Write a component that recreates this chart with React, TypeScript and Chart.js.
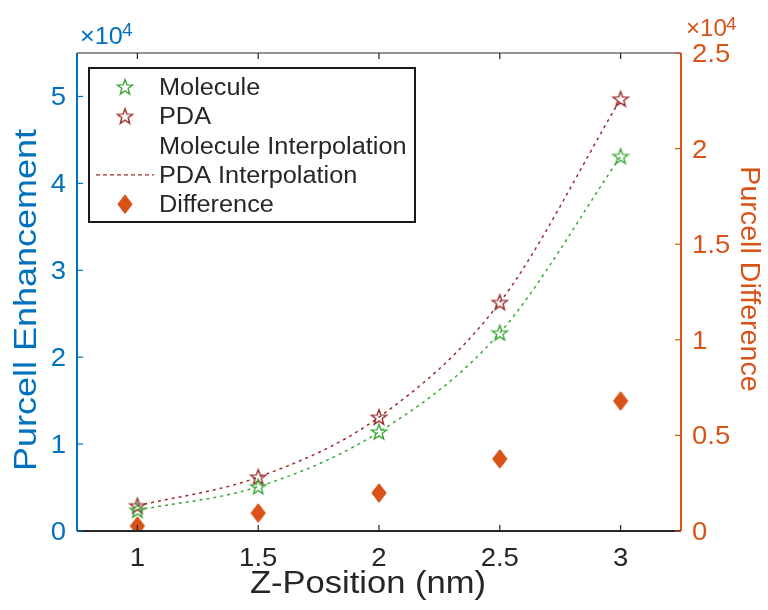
import React, { useEffect, useRef } from "react";
import { Chart, registerables } from "chart.js";

Chart.register(...registerables);

const zPositions = [1, 1.5, 2, 2.5, 3];
const moleculeValues = [2400, 5100, 11400, 22800, 43100];
const pdaValues = [2900, 6200, 13100, 26300, 49700];
const differenceValues = [260, 940, 1990, 3770, 6800];
const xTicks = [1, 1.5, 2, 2.5, 3];
const leftTicks = [0, 10000, 20000, 30000, 40000, 50000];
const rightTicks = [0, 5000, 10000, 15000, 20000, 25000];
const legendLabels = ["Molecule", "PDA", "Molecule Interpolation", "PDA Interpolation", "Difference"];

const BLUE = "#0072BD";
const ORANGE = "#D95319";
const GREEN = "#3aa83a";
const DARKRED = "#9b2d2d";
const TEXT = "#262626";
const FONT = "'Liberation Sans', Arial, Helvetica, sans-serif";
const SX = 1.1;

function makeStar(color: string): HTMLCanvasElement {
  const c = document.createElement("canvas");
  c.width = 20;
  c.height = 20;
  const ctx = c.getContext("2d")!;
  ctx.strokeStyle = color;
  ctx.lineWidth = 1.4;
  ctx.beginPath();
  const cx = 10, cy = 10.5, ro = 8, ri = 3.3;
  for (let i = 0; i < 10; i++) {
    const r = i % 2 === 0 ? ro : ri;
    const a = -Math.PI / 2 + (i * Math.PI) / 5;
    const px = cx + r * Math.cos(a);
    const py = cy + r * Math.sin(a);
    if (i === 0) ctx.moveTo(px, py);
    else ctx.lineTo(px, py);
  }
  ctx.closePath();
  ctx.stroke();
  return c;
}

function makeDiamond(color: string): HTMLCanvasElement {
  const c = document.createElement("canvas");
  c.width = 16;
  c.height = 20;
  const ctx = c.getContext("2d")!;
  ctx.fillStyle = color;
  ctx.strokeStyle = color;
  ctx.lineJoin = "round";
  ctx.lineWidth = 2;
  ctx.beginPath();
  ctx.moveTo(8, 1.5);
  ctx.lineTo(14.5, 10);
  ctx.lineTo(8, 18.5);
  ctx.lineTo(1.5, 10);
  ctx.closePath();
  ctx.fill();
  ctx.stroke();
  return c;
}

function txt(ctx: CanvasRenderingContext2D, s: string, x: number, y: number, align: CanvasTextAlign, sx = SX) {
  ctx.save();
  ctx.translate(x, y);
  ctx.scale(sx, 1);
  ctx.textAlign = align;
  ctx.textBaseline = "alphabetic";
  ctx.fillText(s, 0, 0);
  ctx.restore();
}

const pts = (ys: number[]) => zPositions.map((x, i) => ({ x, y: ys[i] }));

export default function App() {
  const ref = useRef<HTMLCanvasElement | null>(null);
  useEffect(() => {
    document.body.style.margin = "0";
    const greenStar = makeStar(GREEN);
    const redStar = makeStar(DARKRED);
    const diamond = makeDiamond(ORANGE);

    const framePlugin = {
      id: "frame",
      afterDraw(chart: any) {
        const { ctx, chartArea: a, scales } = chart;
        const xs = scales.x, yl = scales.y, yr = scales.y2;
        ctx.save();
        // axes lines
        ctx.lineWidth = 2;
        ctx.strokeStyle = TEXT;
        ctx.beginPath();
        ctx.moveTo(a.left, a.bottom);
        ctx.lineTo(a.right, a.bottom);
        ctx.stroke();
        ctx.lineWidth = 1.2;
        ctx.beginPath();
        ctx.moveTo(a.left, a.top);
        ctx.lineTo(a.right, a.top);
        ctx.stroke();
        ctx.lineWidth = 2;
        ctx.strokeStyle = BLUE;
        ctx.beginPath();
        ctx.moveTo(a.left, a.top);
        ctx.lineTo(a.left, a.bottom);
        ctx.stroke();
        ctx.strokeStyle = ORANGE;
        ctx.beginPath();
        ctx.moveTo(a.right, a.top);
        ctx.lineTo(a.right, a.bottom);
        ctx.stroke();
        // ticks + labels
        ctx.lineWidth = 1.2;
        const tl = 6;
        ctx.font = `25px ${FONT}`;
        ctx.strokeStyle = TEXT;
        ctx.fillStyle = TEXT;
        xTicks.forEach((v) => {
          const px = xs.getPixelForValue(v);
          ctx.beginPath();
          ctx.moveTo(px, a.bottom);
          ctx.lineTo(px, a.bottom - tl);
          ctx.moveTo(px, a.top);
          ctx.lineTo(px, a.top + tl);
          ctx.stroke();
          txt(ctx, String(v), px, 566, "center");
        });
        ctx.strokeStyle = BLUE;
        ctx.fillStyle = BLUE;
        leftTicks.forEach((v) => {
          const py = yl.getPixelForValue(v);
          ctx.beginPath();
          ctx.moveTo(a.left, py);
          ctx.lineTo(a.left + tl, py);
          ctx.stroke();
          txt(ctx, String(v / 10000), 66, py + 9, "right");
        });
        ctx.strokeStyle = ORANGE;
        ctx.fillStyle = ORANGE;
        rightTicks.forEach((v) => {
          const py = yr.getPixelForValue(v);
          ctx.beginPath();
          ctx.moveTo(a.right, py);
          ctx.lineTo(a.right - tl, py);
          ctx.stroke();
          txt(ctx, String(v / 10000), 692, py + 9, "left");
        });
        // exponents
        ctx.fillStyle = BLUE;
        ctx.font = `24px ${FONT}`;
        txt(ctx, "×10", 80, 44, "left", 1.05);
        ctx.font = `18px ${FONT}`;
        txt(ctx, "4", 122, 36, "left", 1.05);
        ctx.fillStyle = ORANGE;
        ctx.font = `23px ${FONT}`;
        txt(ctx, "×10", 686, 36, "left", 1.05);
        ctx.font = `18px ${FONT}`;
        txt(ctx, "4", 726, 30, "left", 1.05);
        // axis titles
        ctx.fillStyle = TEXT;
        ctx.font = `32px ${FONT}`;
        txt(ctx, "Z-Position (nm)", 368, 593, "center", 1.08);
        ctx.save();
        ctx.translate(36, 300);
        ctx.rotate(-Math.PI / 2);
        ctx.fillStyle = BLUE;
        ctx.font = `31px ${FONT}`;
        txt(ctx, "Purcell Enhancement", 0, 0, "center", 1.16);
        ctx.restore();
        ctx.save();
        ctx.translate(741, 279);
        ctx.rotate(Math.PI / 2);
        ctx.fillStyle = ORANGE;
        ctx.font = `27px ${FONT}`;
        txt(ctx, "Purcell Difference", 0, 0, "center", 1.06);
        ctx.restore();
        // legend
        const lx = 89, ly = 68, lw = 326, lh = 154;
        ctx.fillStyle = "#ffffff";
        ctx.fillRect(lx, ly, lw, lh);
        ctx.strokeStyle = "#1a1a1a";
        ctx.lineWidth = 2;
        ctx.strokeRect(lx, ly, lw, lh);
        ctx.font = `23px ${FONT}`;
        legendLabels.forEach((t, i) => {
          const y = 87 + i * 29.3;
          ctx.fillStyle = TEXT;
          txt(ctx, t, 159, y + 8, "left", 1.1);
          if (i === 0) ctx.drawImage(greenStar, 125 - 10, y - 10);
          if (i === 1) ctx.drawImage(redStar, 125 - 10, y - 10);
          if (i === 3) {
            ctx.save();
            ctx.strokeStyle = DARKRED;
            ctx.lineWidth = 1.3;
            ctx.setLineDash([4, 3]);
            ctx.beginPath();
            ctx.moveTo(96, y);
            ctx.lineTo(154, y);
            ctx.stroke();
            ctx.restore();
          }
          if (i === 4) ctx.drawImage(diamond, 125 - 8, y - 10);
        });
        ctx.restore();
      },
    };

    const chart = new Chart(ref.current!, {
      type: "scatter",
      data: {
        datasets: [
          {
            label: "Molecule Interpolation",
            data: pts(moleculeValues),
            showLine: true,
            borderColor: GREEN,
            borderWidth: 1.5,
            borderDash: [3, 4],
            pointRadius: 0,
            cubicInterpolationMode: "monotone",
            yAxisID: "y",
          },
          {
            label: "PDA Interpolation",
            data: pts(pdaValues),
            showLine: true,
            borderColor: DARKRED,
            borderWidth: 1.5,
            borderDash: [3, 4],
            pointRadius: 0,
            cubicInterpolationMode: "monotone",
            yAxisID: "y",
          },
          {
            label: "Molecule",
            data: pts(moleculeValues),
            showLine: false,
            pointStyle: greenStar,
            yAxisID: "y",
          },
          {
            label: "PDA",
            data: pts(pdaValues),
            showLine: false,
            pointStyle: redStar,
            yAxisID: "y",
          },
          {
            label: "Difference",
            data: pts(differenceValues),
            showLine: false,
            pointStyle: diamond,
            yAxisID: "y2",
          },
        ],
      } as any,
      options: {
        responsive: false,
        animation: false,
        devicePixelRatio: 1,
        layout: { padding: { top: 53, left: 0, right: 0, bottom: 0 } },
        plugins: { legend: { display: false }, tooltip: { enabled: false } },
        scales: {
          x: {
            type: "linear",
            min: 0.75,
            max: 3.25,
            grid: { display: false, drawTicks: false },
            border: { display: false },
            afterBuildTicks: (s: any) => { s.ticks = xTicks.map((v) => ({ value: v })); },
            afterFit: (s: any) => { s.height = 79; },
            ticks: { display: false },
          },
          y: {
            type: "linear",
            position: "left",
            min: 0,
            max: 55000,
            grid: { display: false, drawTicks: false },
            border: { display: false },
            afterBuildTicks: (s: any) => { s.ticks = leftTicks.map((v) => ({ value: v })); },
            afterFit: (s: any) => { s.width = 77; },
            ticks: { display: false },
          },
          y2: {
            type: "linear",
            position: "right",
            min: 0,
            max: 25000,
            grid: { display: false, drawTicks: false },
            border: { display: false },
            afterBuildTicks: (s: any) => { s.ticks = rightTicks.map((v) => ({ value: v })); },
            afterFit: (s: any) => { s.width = 87; },
            ticks: { display: false },
          },
        },
      } as any,
      plugins: [framePlugin],
    });
    return () => chart.destroy();
  }, []);
  return <canvas ref={ref} width={768} height={610} style={{ display: "block" }} />;
}
